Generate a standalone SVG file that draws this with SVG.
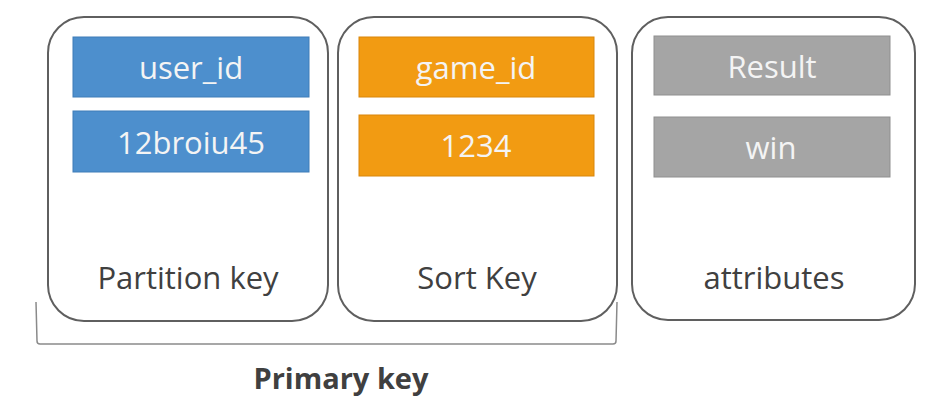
<svg xmlns="http://www.w3.org/2000/svg" width="933" height="406" viewBox="0 0 933 406">
<style>
.card{fill:#ffffff;stroke:#5f5f5f;stroke-width:2}
.blue{fill:#4d8fcd;stroke:#3f7db8;stroke-width:1}
.orange{fill:#f29b12;stroke:#d9860a;stroke-width:1}
.gray{fill:#a5a5a5;stroke:#8f8f8f;stroke-width:1}
.cell{font-family:"Open Sans","Liberation Sans",sans-serif;font-size:31px;fill:#f4f4f4;text-anchor:middle}
.label{font-family:"Open Sans","Liberation Sans",sans-serif;font-size:31px;fill:#404040;text-anchor:middle}
.title{font-family:"Open Sans","Liberation Sans",sans-serif;font-size:29px;font-weight:bold;fill:#404040;text-anchor:middle}
.brace{fill:none;stroke:#8a8a8a;stroke-width:1.5}
</style>
<rect width="933" height="406" fill="#ffffff"/>
<g id="partition">
<rect class="card" x="48" y="17" width="280" height="304" rx="36"/>
<rect class="blue" x="73" y="37" width="236" height="60"/>
<text class="cell" x="191" y="79">user_id</text>
<rect class="blue" x="73" y="111" width="236" height="61"/>
<text class="cell" x="191" y="154">12broiu45</text>
<text class="label" x="188" y="289">Partition key</text>
</g>
<g id="sort">
<rect class="card" x="338" y="17" width="279" height="304" rx="36"/>
<rect class="orange" x="359" y="37" width="235" height="60"/>
<text class="cell" x="476" y="79">game_id</text>
<rect class="orange" x="359" y="115" width="235" height="61"/>
<text class="cell" x="476" y="157">1234</text>
<text class="label" x="477" y="289">Sort Key</text>
</g>
<g id="attributes">
<rect class="card" x="632" y="17" width="283" height="303" rx="36"/>
<rect class="gray" x="654" y="36" width="236" height="59"/>
<text class="cell" x="772" y="78">Result</text>
<rect class="gray" x="654" y="117" width="236" height="60"/>
<text class="cell" x="771" y="159">win</text>
<text class="label" x="774" y="289">attributes</text>
</g>
<g id="connectors">
<path class="brace" d="M36,302 L37,341 Q37,344 40,344 L613,344 Q616,344 616,341 L617,302"/>
</g>
<g id="primary">
<text class="title" x="341" y="389">Primary key</text>
</g>
</svg>
